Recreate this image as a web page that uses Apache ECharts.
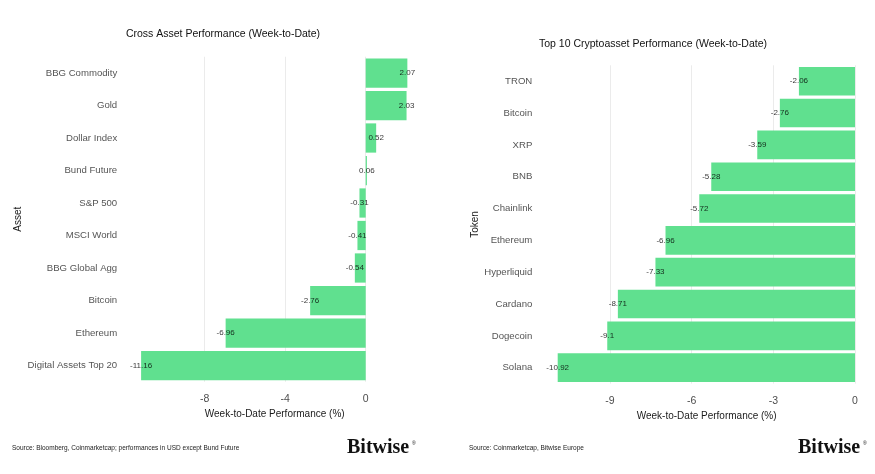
<!DOCTYPE html>
<html>
<head>
<meta charset="utf-8">
<script src="https://cdn.jsdelivr.net/npm/echarts@6/dist/echarts.min.js"></script>
<style>
html,body{margin:0;padding:0;background:#fff;}
#chart{width:875px;height:474px;}
</style>
</head>
<body>
<div id="chart"></div>
<script>
// ---- Data ----
const assetCategories = ['BBG Commodity','Gold','Dollar Index','Bund Future','S&P 500','MSCI World','BBG Global Agg','Bitcoin','Ethereum','Digital Assets Top 20'];
const assetValues = [2.07, 2.03, 0.52, 0.06, -0.31, -0.41, -0.54, -2.76, -6.96, -11.16];
const tokenCategories = ['TRON','Bitcoin','XRP','BNB','Chainlink','Ethereum','Hyperliquid','Cardano','Dogecoin','Solana'];
const tokenValues = [-2.06, -2.76, -3.59, -5.28, -5.72, -6.96, -7.33, -8.71, -9.1, -10.92];
const leftTitle = 'Cross Asset Performance (Week-to-Date)';
const rightTitle = 'Top 10 Cryptoasset Performance (Week-to-Date)';
const xAxisTitle = 'Week-to-Date Performance (%)';
const leftSource = 'Source: Bloomberg, Coinmarketcap; performances in USD except Bund Future';
const rightSource = 'Source: Coinmarketcap, Bitwise Europe';

const FONT = 'Liberation Sans, Arial, sans-serif';
const BAR = '#60e08f';
const GRIDC = '#ebebeb';

const chart = echarts.init(document.getElementById('chart'), null, {renderer:'canvas'});

function xAxisCfg(gridIndex, min, max, interval, padding){
  return {
    type:'value', gridIndex, min, max, interval,
    axisLine:{show:false}, axisTick:{show:false},
    axisLabel:{color:'#4d4d4d', fontFamily:FONT, fontSize:10.5, margin:12, showMinLabel:false, showMaxLabel: gridIndex===0 ? false : true},
    splitLine:{show:true, showMinLine:false, showMaxLine: gridIndex===0 ? false : true, lineStyle:{color:GRIDC, width:1}},
    name:xAxisTitle, nameLocation:'middle', nameGap:27,
    nameTextStyle:{color:'#1a1a1a', fontFamily:FONT, fontSize:10, padding:padding}
  };
}
function yAxisCfg(gridIndex, cats, name, margin, nameGap){
  return {
    type:'category', gridIndex, data:cats, inverse:true,
    axisLine:{show:false}, axisTick:{show:false}, splitLine:{show:false},
    axisLabel:{color:'#555', fontFamily:FONT, fontSize:9.6, margin:margin},
    name:name, nameLocation:'middle', nameRotate:90, nameGap:nameGap,
    nameTextStyle:{color:'#1a1a1a', fontFamily:FONT, fontSize:10}
  };
}
function labelData(cats, vals){
  return vals.map((v,i)=>[v, cats[i]]);
}
function labelSeries(idx, cats, vals){
  return {type:'scatter', xAxisIndex:idx, yAxisIndex:idx, data:labelData(cats, vals),
     symbolSize:1, itemStyle:{color:'rgba(0,0,0,0)'}, z:5, silent:true,
     label:{show:true, position:'inside', color:'#000', fontFamily:FONT, fontSize:8,
       textBorderWidth:0, textBorderColor:'transparent',
       formatter:p=>String(p.value[0])}};
}

const option = {
  backgroundColor:'#fff',
  animation:false,
  title:[
    {text:leftTitle, left:223, top:29, textAlign:'center', padding:0,
     textStyle:{fontFamily:FONT, fontSize:10.5, fontWeight:'normal', color:'#111'}},
    {text:rightTitle, left:653, top:39, textAlign:'center', padding:0,
     textStyle:{fontFamily:FONT, fontSize:10.5, fontWeight:'normal', color:'#111'}}
  ],
  grid:[
    {left:124.2, width:322, top:56.75, height:325},
    {left:528.3, width:326.7, top:65.3, height:318.3}
  ],
  xAxis:[
    xAxisCfg(0, -12, 4, 4, [0,21,0,0]),
    xAxisCfg(1, -12, 0, 3, [0,0,0,30])
  ],
  yAxis:[
    yAxisCfg(0, assetCategories, 'Asset', 7, 100),
    yAxisCfg(1, tokenCategories, 'Token', -4, 46)
  ],
  series:[
    {type:'bar', xAxisIndex:0, yAxisIndex:0, data:assetValues, barCategoryGap:'10%',
     itemStyle:{color:BAR}},
    {type:'bar', xAxisIndex:1, yAxisIndex:1, data:tokenValues, barCategoryGap:'10%',
     itemStyle:{color:BAR}},
    labelSeries(0, assetCategories, assetValues),
    labelSeries(1, tokenCategories, tokenValues)
  ],
  graphic:[
    {type:'text', left:12, top:445, style:{text:leftSource, fontFamily:FONT, fontSize:6.5, fill:'#222'}},
    {type:'text', left:469, top:445, style:{text:rightSource, fontFamily:FONT, fontSize:6.5, fill:'#222'}},
    {type:'text', left:347, top:438, style:{text:'Bitwise', fontFamily:'Liberation Serif, DejaVu Serif, serif', fontSize:20, fontWeight:'bold', fill:'#111'}},
    {type:'text', left:412, top:441, style:{text:'®', fontFamily:FONT, fontSize:5, fill:'#111'}},
    {type:'text', left:798, top:438, style:{text:'Bitwise', fontFamily:'Liberation Serif, DejaVu Serif, serif', fontSize:20, fontWeight:'bold', fill:'#111'}},
    {type:'text', left:863, top:441, style:{text:'®', fontFamily:FONT, fontSize:5, fill:'#111'}}
  ]
};
chart.setOption(option);
</script>
</body>
</html>
